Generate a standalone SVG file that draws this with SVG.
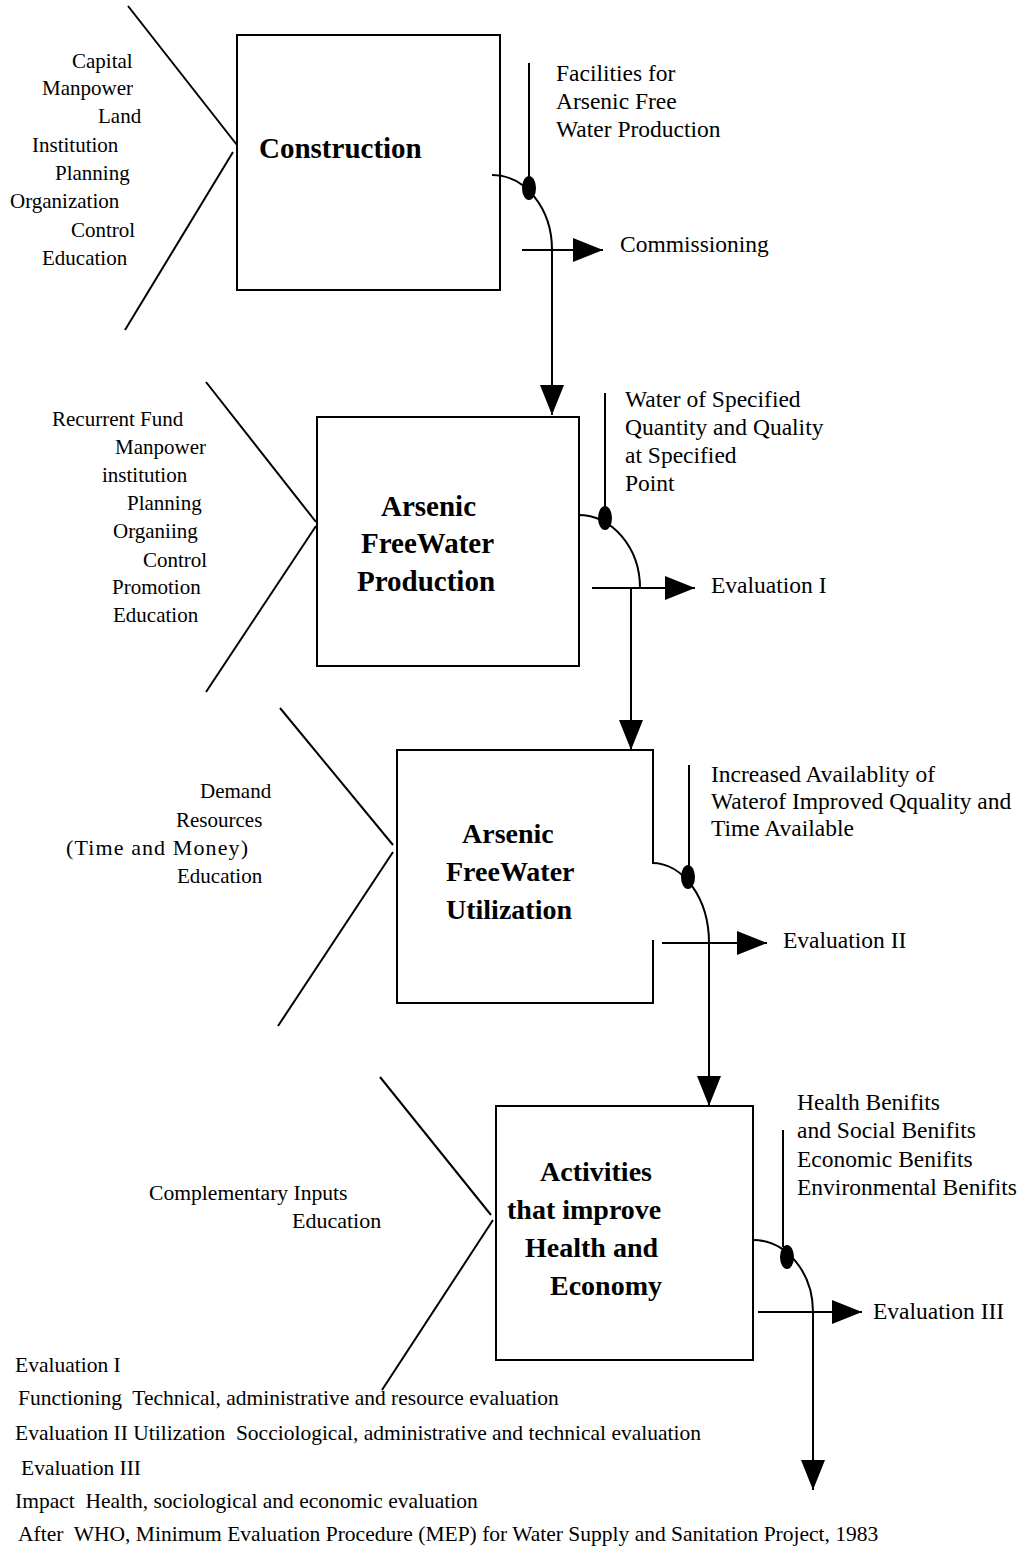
<svg xmlns="http://www.w3.org/2000/svg" width="1024" height="1551" viewBox="0 0 1024 1551">
<style>
.box{fill:none;stroke:#000;stroke-width:2}
.ln{fill:none;stroke:#000;stroke-width:2}
.lbl{font-family:"Liberation Serif","Times New Roman",serif;font-size:21px;fill:#000}
.rl{font-family:"Liberation Serif","Times New Roman",serif;font-size:23.5px;fill:#000}
.ttl{font-family:"Liberation Serif","Times New Roman",serif;font-size:28px;font-weight:bold;fill:#000}
.ft{font-family:"Liberation Serif","Times New Roman",serif;font-size:21.5px;fill:#000}
.dot{fill:#000}
</style>
<defs>
<marker id="ah" viewBox="0 0 30 24" refX="30" refY="12" markerWidth="30" markerHeight="24" markerUnits="userSpaceOnUse" orient="auto"><path d="M0,0 L30,12 L0,24 z" fill="#000"/></marker>
</defs>
<rect width="1024" height="1551" fill="#fff"/>

<g id="construction">
<rect class="box" x="237" y="35" width="263" height="255"/>
<text class="ttl" x="259" y="158" style="font-size:29px">Construction</text>
</g>
<g id="construction-inputs">
<line class="ln" x1="128" y1="6" x2="237" y2="145"/>
<line class="ln" x1="233" y1="152" x2="125" y2="330"/>
<text class="lbl" x="72" y="68">Capital</text>
<text class="lbl" x="42" y="95">Manpower</text>
<text class="lbl" x="98" y="123">Land</text>
<text class="lbl" x="32" y="152">Institution</text>
<text class="lbl" x="55" y="180">Planning</text>
<text class="lbl" x="10" y="208">Organization</text>
<text class="lbl" x="71" y="237">Control</text>
<text class="lbl" x="42" y="265">Education</text>
</g>

<g id="production">
<rect class="box" x="317" y="417" width="262" height="249"/>
<text class="ttl" x="381" y="516" style="font-size:29px">Arsenic</text>
<text class="ttl" x="361" y="553" style="font-size:29px">FreeWater</text>
<text class="ttl" x="357" y="591" style="font-size:29px">Production</text>
</g>
<g id="production-inputs">
<line class="ln" x1="206" y1="382" x2="316" y2="522"/>
<line class="ln" x1="316" y1="526" x2="206" y2="692"/>
<text class="lbl" x="52" y="426">Recurrent Fund</text>
<text class="lbl" x="115" y="454">Manpower</text>
<text class="lbl" x="102" y="482">institution</text>
<text class="lbl" x="127" y="510">Planning</text>
<text class="lbl" x="113" y="538">Organiing</text>
<text class="lbl" x="143" y="567">Control</text>
<text class="lbl" x="112" y="594">Promotion</text>
<text class="lbl" x="113" y="622">Education</text>
</g>

<g id="utilization">
<path class="box" d="M653,863 V750 H397 V1003 H653 V940"/>
<text class="ttl" x="462" y="843">Arsenic</text>
<text class="ttl" x="446" y="881">FreeWater</text>
<text class="ttl" x="446" y="919">Utilization</text>
</g>
<g id="utilization-inputs">
<line class="ln" x1="280" y1="708" x2="393" y2="845"/>
<line class="ln" x1="393" y1="852" x2="278" y2="1026"/>
<text class="lbl" x="200" y="798">Demand</text>
<text class="lbl" x="176" y="827">Resources</text>
<text class="lbl" x="66" y="855" style="font-size:22px" textLength="182" lengthAdjust="spacing">(Time and Money)</text>
<text class="lbl" x="177" y="883">Education</text>
</g>

<g id="activities">
<rect class="box" x="496" y="1106" width="257" height="254"/>
<text class="ttl" x="540" y="1181">Activities</text>
<text class="ttl" x="507" y="1219">that improve</text>
<text class="ttl" x="525" y="1257">Health and</text>
<text class="ttl" x="550" y="1295">Economy</text>
</g>
<g id="activities-inputs">
<line class="ln" x1="380" y1="1077" x2="491" y2="1215"/>
<line class="ln" x1="493" y1="1220" x2="382" y2="1390"/>
<text class="lbl" x="149" y="1200" style="font-size:21.6px">Complementary Inputs</text>
<text class="lbl" x="292" y="1228" style="font-size:22px">Education</text>
</g>

<g id="outputs">
<text class="rl" x="556" y="81">Facilities for</text>
<text class="rl" x="556" y="109">Arsenic Free</text>
<text class="rl" x="556" y="137">Water Production</text>
<text class="rl" x="620" y="252">Commissioning</text>
<text class="rl" x="625" y="407">Water of Specified</text>
<text class="rl" x="625" y="435">Quantity and Quality</text>
<text class="rl" x="625" y="463">at Specified</text>
<text class="rl" x="625" y="491">Point</text>
<text class="rl" x="711" y="593">Evaluation I</text>
<text class="rl" x="711" y="782">Increased Availablity of</text>
<text class="rl" x="711" y="809">Waterof Improved Qquality and</text>
<text class="rl" x="711" y="836">Time Available</text>
<text class="rl" x="783" y="948">Evaluation II</text>
<text class="rl" x="797" y="1110">Health Benifits</text>
<text class="rl" x="797" y="1138">and Social Benifits</text>
<text class="rl" x="797" y="1167">Economic Benifits</text>
<text class="rl" x="797" y="1195">Environmental Benifits</text>
<text class="rl" x="873" y="1319">Evaluation III</text>
</g>

<g id="connectors">
<line class="ln" x1="529" y1="63" x2="529" y2="178"/>
<path class="ln" d="M492,175 A60,75 0 0 1 552,250"/>
<ellipse class="dot" cx="529" cy="188" rx="7" ry="12"/>
<line class="ln" x1="522" y1="250" x2="603" y2="250" marker-end="url(#ah)"/>
<line class="ln" x1="552" y1="250" x2="552" y2="415" marker-end="url(#ah)"/>
<line class="ln" x1="605" y1="393" x2="605" y2="508"/>
<path class="ln" d="M578,515 A62,73 0 0 1 640,588"/>
<ellipse class="dot" cx="605" cy="518" rx="7" ry="12"/>
<line class="ln" x1="592" y1="588" x2="695" y2="588" marker-end="url(#ah)"/>
<line class="ln" x1="631" y1="588" x2="631" y2="750" marker-end="url(#ah)"/>
<line class="ln" x1="689" y1="765" x2="689" y2="867"/>
<path class="ln" d="M652,863 A57,80 0 0 1 709,943"/>
<ellipse class="dot" cx="688" cy="877" rx="7" ry="12"/>
<line class="ln" x1="662" y1="943" x2="767" y2="943" marker-end="url(#ah)"/>
<line class="ln" x1="709" y1="943" x2="709" y2="1106" marker-end="url(#ah)"/>
<line class="ln" x1="783" y1="1130" x2="783" y2="1247"/>
<path class="ln" d="M753,1240 A60,72 0 0 1 813,1312"/>
<ellipse class="dot" cx="787" cy="1257" rx="7" ry="12"/>
<line class="ln" x1="758" y1="1312" x2="862" y2="1312" marker-end="url(#ah)"/>
<line class="ln" x1="813" y1="1312" x2="813" y2="1490" marker-end="url(#ah)"/>
</g>

<g id="footer">
<text class="ft" x="15" y="1372">Evaluation I</text>
<text class="ft" x="18" y="1405" xml:space="preserve">Functioning  Technical, administrative and resource evaluation</text>
<text class="ft" x="15" y="1440" xml:space="preserve">Evaluation II Utilization  Socciological, administrative and technical evaluation</text>
<text class="ft" x="21" y="1475">Evaluation III</text>
<text class="ft" x="15" y="1508" xml:space="preserve">Impact  Health, sociological and economic evaluation</text>
<text class="ft" x="18" y="1541" xml:space="preserve">After  WHO, Minimum Evaluation Procedure (MEP) for Water Supply and Sanitation Project, 1983</text>
</g>
</svg>
